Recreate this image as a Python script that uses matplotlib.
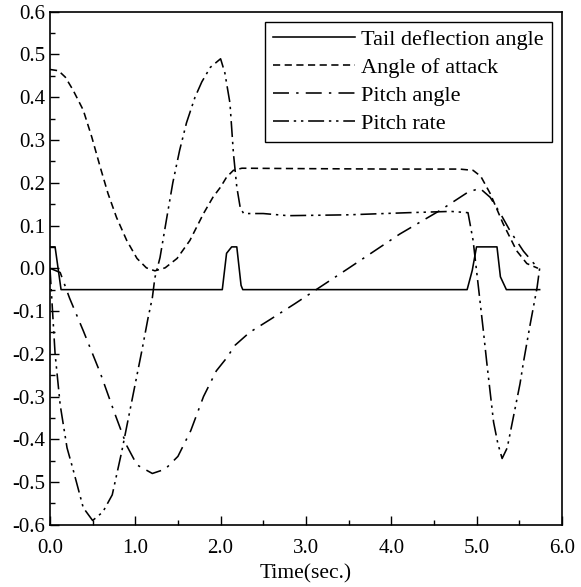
import numpy as np
import matplotlib.pyplot as plt
from matplotlib.ticker import MultipleLocator, FormatStrFormatter

plt.rcParams['font.family'] = ['Liberation Serif', 'DejaVu Serif']
plt.rcParams['axes.unicode_minus'] = False

# Tail deflection angle (bang-bang style pulses)
t_tail = [0, 0.06, 0.13, 2.02, 2.07, 2.13, 2.19, 2.24, 2.26, 4.89, 4.95, 5.0, 5.24, 5.28, 5.35, 5.74]
tail = [0.05, 0.05, -0.05, -0.05, 0.035, 0.05, 0.05, -0.04, -0.05, -0.05, -0.005, 0.05, 0.05, -0.02, -0.05, -0.05]

# Angle of attack
t_aoa = [0, 0.1, 0.18, 0.27, 0.39, 0.49, 0.59, 0.68, 0.78, 0.9, 1.02, 1.13, 1.23, 1.35, 1.49,
         1.64, 1.8, 1.91, 2.0, 2.07, 2.15, 2.25, 3.0, 4.0, 4.8, 4.96, 5.05, 5.16, 5.31, 5.47, 5.59, 5.72]
aoa = [0.465, 0.462, 0.447, 0.417, 0.37, 0.307, 0.236, 0.175, 0.119, 0.065, 0.023, 0.001, -0.006,
       0.001, 0.023, 0.065, 0.128, 0.166, 0.19, 0.213, 0.229, 0.234, 0.233, 0.232, 0.232, 0.229,
       0.215, 0.175, 0.105, 0.041, 0.011, 0.0]

# Pitch angle
t_pa = [0, 0.12, 0.23, 0.39, 0.59, 0.76, 0.9, 1.02, 1.2, 1.35, 1.5, 1.65, 1.8, 1.95, 2.07, 2.17,
        2.34, 2.58, 2.87, 3.5, 4.1, 4.57, 4.9, 5.04, 5.16, 5.28, 5.4, 5.55, 5.72]
pitch_angle = [0, -0.01, -0.07, -0.146, -0.245, -0.34, -0.415, -0.46, -0.48, -0.47, -0.44, -0.38,
               -0.30, -0.24, -0.21, -0.18, -0.15, -0.12, -0.083, 0.0, 0.08, 0.135, 0.178, 0.187,
               0.166, 0.128, 0.085, 0.04, 0.0]

# Pitch rate
t_pr = [0, 0.03, 0.06, 0.12, 0.2, 0.27, 0.39, 0.5, 0.62, 0.73, 0.84, 1.08, 1.15, 1.2, 1.23, 1.29,
        1.37, 1.44, 1.52, 1.6, 1.7, 1.78, 1.88, 2.0, 2.05, 2.11, 2.15, 2.19, 2.23, 2.27, 2.5, 2.79,
        3.5, 4.2, 4.7, 4.9, 4.96, 5.02, 5.08, 5.12, 5.16, 5.2, 5.25, 5.3, 5.36, 5.43, 5.51, 5.55,
        5.63, 5.71, 5.74]
pitch_rate = [0, -0.1, -0.2, -0.32, -0.42, -0.47, -0.56, -0.59, -0.57, -0.53, -0.43, -0.19, -0.116,
              -0.069, -0.022, 0.025, 0.119, 0.2, 0.276, 0.34, 0.4, 0.436, 0.47, 0.49, 0.457, 0.386,
              0.27, 0.19, 0.142, 0.128, 0.128, 0.123, 0.125, 0.13, 0.133, 0.13, 0.065, -0.04, -0.146,
              -0.22, -0.29, -0.36, -0.41, -0.445, -0.42, -0.35, -0.27, -0.22, -0.13, -0.045, 0.0]

fig = plt.figure(figsize=(5.81, 5.87), dpi=100)
ax = fig.add_axes([0.086, 0.106, 0.881, 0.874])

lw = 1.15
ax.plot(t_tail, tail, color='black', lw=lw, ls='-', label='Tail deflection angle')
ax.plot(t_aoa, aoa, color='black', lw=lw, ls=(0, (4.5, 2.8)), label='Angle of attack')
ax.plot(t_pa, pitch_angle, color='black', lw=lw, ls=(0, (10, 4.5, 1.5, 4.5)), label='Pitch angle')
ax.plot(t_pr, pitch_rate, color='black', lw=lw, ls=(0, (10, 3, 1.5, 3, 1.5, 3)), label='Pitch rate')

ax.set_xlim(0, 6)
ax.set_ylim(-0.6, 0.6)
ax.xaxis.set_major_locator(MultipleLocator(1.0))
ax.xaxis.set_minor_locator(MultipleLocator(0.5))
ax.yaxis.set_major_locator(MultipleLocator(0.1))
ax.yaxis.set_minor_locator(MultipleLocator(0.05))
ax.xaxis.set_major_formatter(FormatStrFormatter('%.1f'))
ax.yaxis.set_major_formatter(FormatStrFormatter('%.1f'))
ax.tick_params(which='both', direction='in', top=False, right=False, labelsize=15)
ax.tick_params(which='major', length=6.5, width=1)
ax.tick_params(which='minor', length=3.5, width=1)
ax.tick_params(axis='x', which='major', pad=10)
for s in ax.spines.values():
    s.set_linewidth(1.2)

ax.set_xlabel('Time(sec.)', fontsize=15.5, labelpad=5)

leg = ax.legend(loc='upper right', fontsize=16, handlelength=3.7, handletextpad=0.3,
                labelspacing=0.33, borderpad=0.35, borderaxespad=0.45,
                fancybox=False, framealpha=1, edgecolor='black')
leg.get_frame().set_linewidth(1.0)

fig.savefig('out.png', dpi=100)
